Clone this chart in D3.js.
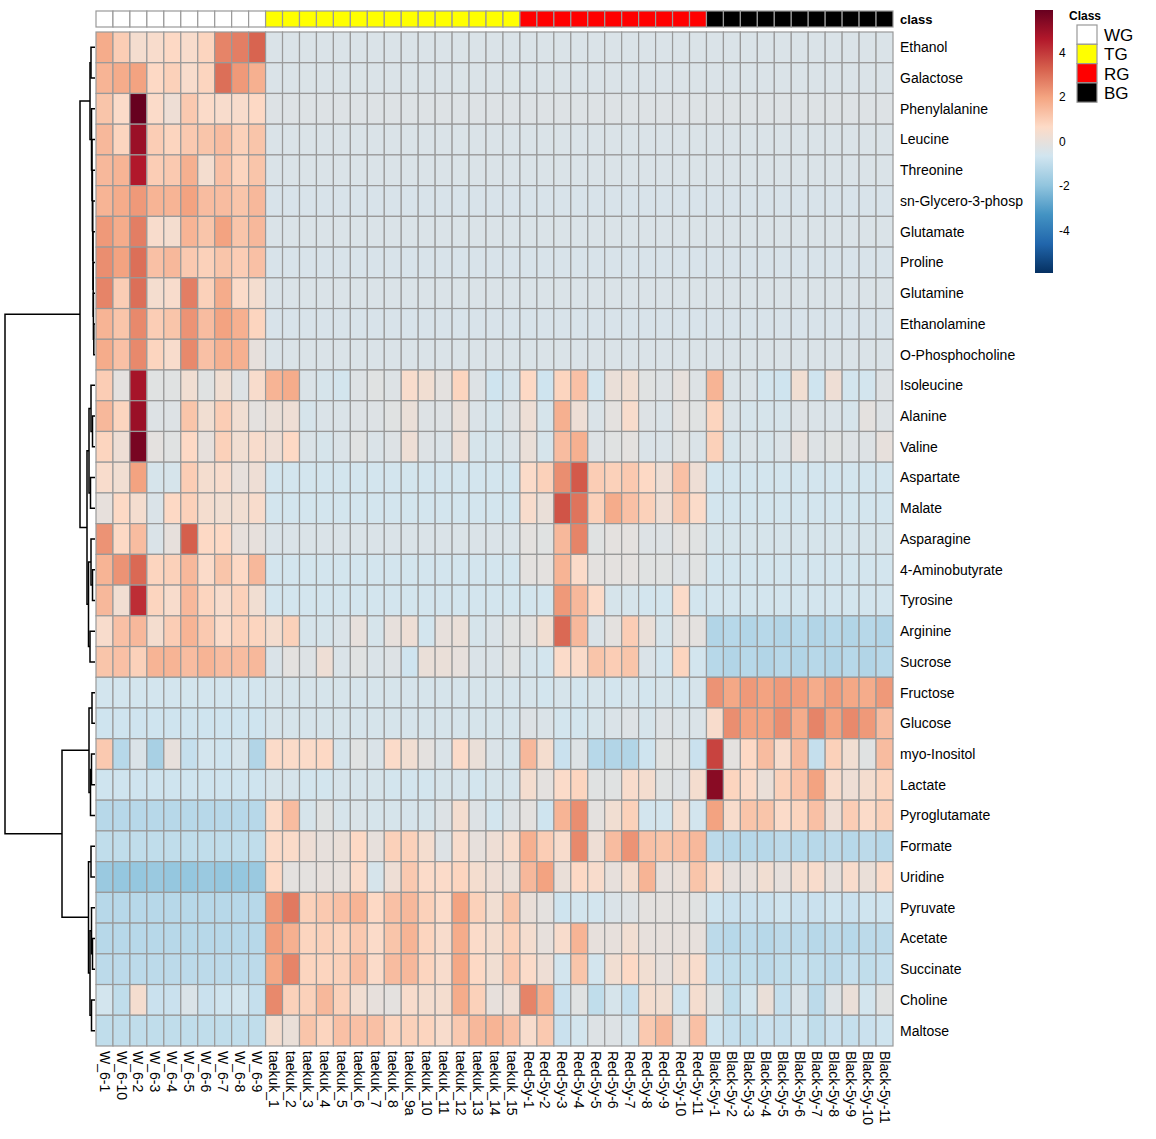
<!DOCTYPE html>
<html>
<head>
<meta charset="utf-8">
<script src="https://cdn.jsdelivr.net/npm/d3@7"></script>
<style>
  body { margin: 0; background: #fff; }
  text { font-family: "Liberation Sans", Arial, sans-serif; }
</style>
</head>
<body>
<div class="canvas"></div>
<script>
// metabolites (rows, top to bottom)
const rowNames = ['Ethanol', 'Galactose', 'Phenylalanine', 'Leucine', 'Threonine', 'sn-Glycero-3-phosp',
  'Glutamate', 'Proline', 'Glutamine', 'Ethanolamine', 'O-Phosphocholine', 'Isoleucine', 'Alanine',
  'Valine', 'Aspartate', 'Malate', 'Asparagine', '4-Aminobutyrate', 'Tyrosine', 'Arginine', 'Sucrose',
  'Fructose', 'Glucose', 'myo-Inositol', 'Lactate', 'Pyroglutamate', 'Formate', 'Uridine', 'Pyruvate',
  'Acetate', 'Succinate', 'Choline', 'Maltose'];

// samples (columns, left to right)
const colNames = ['W_6-1', 'W_6-10', 'W_6-2', 'W_6-3', 'W_6-4', 'W_6-5', 'W_6-6', 'W_6-7', 'W_6-8', 'W_6-9',
  'taekuk_1', 'taekuk_2', 'taekuk_3', 'taekuk_4', 'taekuk_5', 'taekuk_6', 'taekuk_7', 'taekuk_8', 'taekuk_9a',
  'taekuk_10', 'taekuk_11', 'taekuk_12', 'taekuk_13', 'taekuk_14', 'taekuk_15',
  'Red-5y-1', 'Red-5y-2', 'Red-5y-3', 'Red-5y-4', 'Red-5y-5', 'Red-5y-6', 'Red-5y-7', 'Red-5y-8', 'Red-5y-9',
  'Red-5y-10', 'Red-5y-11',
  'Black-5y-1', 'Black-5y-2', 'Black-5y-3', 'Black-5y-4', 'Black-5y-5', 'Black-5y-6', 'Black-5y-7',
  'Black-5y-8', 'Black-5y-9', 'Black-5y-10', 'Black-5y-11'];

const colGroups = ['WG','WG','WG','WG','WG','WG','WG','WG','WG','WG',
  'TG','TG','TG','TG','TG','TG','TG','TG','TG','TG','TG','TG','TG','TG','TG',
  'RG','RG','RG','RG','RG','RG','RG','RG','RG','RG','RG',
  'BG','BG','BG','BG','BG','BG','BG','BG','BG','BG','BG'];

const groupNames = ['WG', 'TG', 'RG', 'BG'];
const groupColors = ['#FFFFFF', '#FFFF00', '#FF0000', '#000000'];
const legendTicks = [4, 2, 0, -2, -4];

// scaled concentrations: W(10) | TG(15) | RG(11) | BG(11)
const values = [
  [1.8,1.0,0.4,0.5,0.7,0.5,0.8,2.6,2.7,3.2, -0.4,-0.4,-0.4,-0.4,-0.4,-0.4,-0.4,-0.4,-0.4,-0.4,-0.4,-0.4,-0.4,-0.4,-0.4, -0.4,-0.4,-0.4,-0.4,-0.4,-0.4,-0.4,-0.4,-0.4,-0.4,-0.4, -0.4,-0.4,-0.4,-0.4,-0.4,-0.4,-0.4,-0.4,-0.4,-0.4,-0.4],
  [1.6,1.8,2.0,0.7,0.9,0.5,0.8,3.0,2.2,1.7, -0.4,-0.4,-0.4,-0.4,-0.4,-0.4,-0.4,-0.4,-0.4,-0.4,-0.4,-0.4,-0.4,-0.4,-0.4, -0.4,-0.4,-0.4,-0.4,-0.4,-0.4,-0.4,-0.4,-0.4,-0.4,-0.4, -0.4,-0.4,-0.4,-0.4,-0.4,-0.4,-0.4,-0.4,-0.4,-0.4,-0.4],
  [1.2,0.6,5.9,0.6,0.2,1.1,0.6,0.5,0.5,0.7, -0.3,-0.3,-0.3,-0.3,-0.3,-0.3,-0.3,-0.3,-0.3,-0.3,-0.3,-0.3,-0.3,-0.3,-0.3, -0.3,-0.3,-0.3,-0.3,-0.3,-0.3,-0.3,-0.3,-0.3,-0.3,-0.3, -0.3,-0.3,-0.3,-0.3,-0.3,-0.3,-0.3,-0.3,-0.3,-0.3,-0.3],
  [1.5,0.8,5.0,1.0,0.8,1.1,1.2,1.4,0.9,1.2, -0.4,-0.4,-0.4,-0.4,-0.4,-0.4,-0.4,-0.4,-0.4,-0.4,-0.4,-0.4,-0.4,-0.4,-0.4, -0.4,-0.4,-0.4,-0.4,-0.4,-0.4,-0.4,-0.4,-0.4,-0.4,-0.4, -0.4,-0.4,-0.4,-0.4,-0.4,-0.4,-0.4,-0.4,-0.4,-0.4,-0.4],
  [1.5,1.6,4.6,1.0,1.1,1.7,0.4,1.3,0.8,1.2, -0.4,-0.4,-0.4,-0.4,-0.4,-0.4,-0.4,-0.4,-0.4,-0.4,-0.4,-0.4,-0.4,-0.4,-0.4, -0.4,-0.4,-0.4,-0.4,-0.4,-0.4,-0.4,-0.4,-0.4,-0.4,-0.4, -0.4,-0.4,-0.4,-0.4,-0.4,-0.4,-0.4,-0.4,-0.4,-0.4,-0.4],
  [1.6,1.8,2.2,1.6,1.6,2.0,1.4,1.4,1.2,1.5, -0.45,-0.45,-0.45,-0.45,-0.45,-0.45,-0.45,-0.45,-0.45,-0.45,-0.45,-0.45,-0.45,-0.45,-0.45, -0.45,-0.45,-0.45,-0.45,-0.45,-0.45,-0.45,-0.45,-0.45,-0.45,-0.45, -0.45,-0.45,-0.45,-0.45,-0.45,-0.45,-0.45,-0.45,-0.45,-0.45,-0.45],
  [2.2,1.8,2.7,0.5,0.4,1.6,1.2,2.0,1.2,1.5, -0.4,-0.4,-0.4,-0.4,-0.4,-0.4,-0.4,-0.4,-0.4,-0.4,-0.4,-0.4,-0.4,-0.4,-0.4, -0.4,-0.4,-0.4,-0.4,-0.4,-0.4,-0.4,-0.4,-0.4,-0.4,-0.4, -0.4,-0.4,-0.4,-0.4,-0.4,-0.4,-0.4,-0.4,-0.4,-0.4,-0.4],
  [2.4,2.0,3.0,1.3,1.5,1.1,0.9,1.2,1.0,1.3, -0.45,-0.45,-0.45,-0.45,-0.45,-0.45,-0.45,-0.45,-0.45,-0.45,-0.45,-0.45,-0.45,-0.45,-0.45, -0.45,-0.45,-0.45,-0.45,-0.45,-0.45,-0.45,-0.45,-0.45,-0.45,-0.45, -0.45,-0.45,-0.45,-0.45,-0.45,-0.45,-0.45,-0.45,-0.45,-0.45,-0.45],
  [2.6,1.0,3.0,0.4,0.5,2.7,0.9,1.8,0.6,0.4, -0.4,-0.4,-0.4,-0.4,-0.4,-0.4,-0.4,-0.4,-0.4,-0.4,-0.4,-0.4,-0.4,-0.4,-0.4, -0.4,-0.4,-0.4,-0.4,-0.4,-0.4,-0.4,-0.4,-0.4,-0.4,-0.4, -0.4,-0.4,-0.4,-0.4,-0.4,-0.4,-0.4,-0.4,-0.4,-0.4,-0.4],
  [1.6,1.2,2.5,1.0,1.2,2.3,1.4,2.0,1.7,0.8, -0.45,-0.45,-0.45,-0.45,-0.45,-0.45,-0.45,-0.45,-0.45,-0.45,-0.45,-0.45,-0.45,-0.45,-0.45, -0.45,-0.45,-0.45,-0.45,-0.45,-0.45,-0.45,-0.45,-0.45,-0.45,-0.45, -0.45,-0.45,-0.45,-0.45,-0.45,-0.45,-0.45,-0.45,-0.45,-0.45,-0.45],
  [1.8,1.3,2.5,0.8,0.5,2.5,1.3,1.7,1.7,0.0, -0.4,-0.4,-0.4,-0.4,-0.4,-0.4,-0.4,-0.4,-0.4,-0.4,-0.4,-0.4,-0.4,-0.4,-0.4, -0.4,-0.4,-0.4,-0.4,-0.4,-0.4,-0.4,-0.4,-0.4,-0.4,-0.4, -0.4,-0.4,-0.4,-0.4,-0.4,-0.4,-0.4,-0.4,-0.4,-0.4,-0.4],
  [1.0,-0.1,4.8,-0.2,-0.2,0.3,-0.2,0.3,-0.3,0.5, 1.6,1.8,-0.4,-0.5,-0.6,-0.3,-0.2,-0.3,0.5,0.3,-0.1,0.8,-0.3,-0.7,-0.5, 0.7,-0.7,0.8,1.3,-0.6,0.1,0.3,-0.2,-0.3,0.0,-0.3, 1.6,-0.4,-0.4,-0.6,-0.7,0.3,-0.7,0.2,-0.6,-0.6,-0.3],
  [1.5,0.8,5.0,-0.3,-0.3,1.2,0.3,1.0,0.3,-0.1, 0.1,0.2,-0.5,-0.4,-0.4,-0.3,-0.3,-0.2,0.1,-0.3,-0.3,0.1,-0.4,-0.5,-0.3, 0.2,-0.5,1.7,0.2,-0.4,-0.1,0.5,-0.3,-0.4,-0.1,-0.2, 0.8,-0.4,-0.5,-0.5,-0.5,-0.3,-0.4,-0.4,-0.5,-0.1,-0.3],
  [0.8,0.2,5.6,-0.1,-0.2,0.7,0.0,0.9,0.3,0.5, 0.2,0.7,-0.4,-0.5,-0.4,-0.2,-0.4,-0.3,0.2,-0.3,-0.4,0.2,-0.5,-0.5,-0.4, 0.1,-0.5,1.4,1.7,-0.3,-0.2,-0.1,-0.4,-0.4,-0.2,-0.4, 0.9,-0.5,-0.4,-0.5,-0.4,0.0,-0.3,-0.2,-0.3,-0.3,0.0],
  [0.5,0.3,2.0,-0.5,-0.5,1.0,0.4,0.5,0.0,0.2, -0.6,-0.6,-0.6,-0.6,-0.6,-0.6,-0.6,-0.6,-0.6,-0.6,-0.6,-0.6,-0.6,-0.6,-0.6, 0.6,0.9,2.4,3.4,1.0,0.9,1.1,0.7,0.2,1.3,0.2, -0.6,-0.6,-0.6,-0.6,-0.6,-0.6,-0.6,-0.6,-0.6,-0.6,-0.6],
  [0.0,0.7,0.4,-0.4,0.7,0.9,0.4,0.3,0.3,0.5, -0.6,-0.6,-0.6,-0.6,-0.6,-0.6,-0.6,-0.6,-0.6,-0.6,-0.6,-0.6,-0.6,-0.6,-0.6, 0.5,0.1,3.5,2.9,0.9,1.8,1.3,0.9,0.2,1.2,0.6, -0.6,-0.6,-0.6,-0.6,-0.6,-0.6,-0.6,-0.6,-0.6,-0.6,-0.6],
  [2.3,0.7,1.4,-0.4,0.0,3.3,0.7,0.7,0.0,0.0, -0.4,-0.4,-0.4,-0.4,-0.4,-0.4,-0.4,-0.4,-0.4,-0.4,-0.4,-0.4,-0.4,-0.4,-0.4, -0.1,-0.2,1.5,2.6,-0.2,-0.1,-0.1,-0.3,-0.3,-0.1,-0.2, -0.5,-0.5,-0.5,-0.5,-0.5,-0.5,-0.5,-0.5,-0.5,-0.5,-0.5],
  [1.6,2.3,3.1,0.8,0.9,1.5,0.6,1.2,0.7,1.5, -0.6,-0.6,-0.6,-0.6,-0.6,-0.6,-0.6,-0.6,-0.6,-0.6,-0.6,-0.6,-0.6,-0.6,-0.6, -0.1,-0.1,1.6,0.6,-0.1,-0.1,-0.1,-0.2,-0.2,-0.3,-0.2, -0.6,-0.6,-0.6,-0.6,-0.6,-0.6,-0.6,-0.6,-0.6,-0.6,-0.6],
  [1.5,0.3,4.2,0.8,0.5,1.5,0.8,0.5,0.9,0.3, -0.6,-0.6,-0.6,-0.6,-0.6,-0.6,-0.6,-0.6,-0.6,-0.6,-0.6,-0.6,-0.6,-0.6,-0.6, -0.6,-0.6,2.2,1.5,0.6,-0.5,-0.5,-0.6,-0.6,0.6,-0.6, -0.6,-0.6,-0.6,-0.6,-0.6,-0.6,-0.6,-0.6,-0.6,-0.6,-0.6],
  [0.5,1.3,1.5,0.4,1.0,1.6,1.1,0.6,0.9,0.8, 0.4,0.9,-0.5,-0.5,-0.4,0.0,-0.5,0.0,0.2,-0.6,0.0,0.1,-0.5,-0.4,-0.2, -0.1,0.3,3.1,1.5,-0.4,-0.1,1.0,0.1,-0.5,0.0,-0.1, -1.3,-1.2,-1.3,-1.2,-1.3,-1.2,-1.3,-1.2,-1.3,-1.2,-1.3],
  [1.2,1.3,0.9,1.6,1.6,1.4,1.6,1.4,1.4,1.5, -0.4,-0.1,-0.3,0.2,-0.4,-0.2,-0.4,-0.3,-0.7,0.1,0.1,0.0,-0.4,-0.4,-0.2, -0.5,-0.6,0.6,0.6,1.2,1.0,1.2,-0.4,-0.6,0.8,-0.6, -1.2,-1.3,-1.2,-1.3,-1.2,-1.3,-1.2,-1.3,-1.2,-1.3,-1.2],
  [-0.6,-0.6,-0.6,-0.6,-0.6,-0.6,-0.6,-0.6,-0.6,-0.6, -0.5,-0.5,-0.5,-0.5,-0.5,-0.5,-0.5,-0.5,-0.5,-0.5,-0.5,-0.5,-0.5,-0.5,-0.5, -0.5,-0.6,-0.5,-0.6,-0.5,-0.6,-0.5,-0.6,-0.5,-0.6,-0.5, 2.3,1.9,2.2,2.0,2.2,2.1,1.8,2.1,1.9,1.8,2.2],
  [-0.7,-0.7,-0.7,-0.7,-0.7,-0.7,-0.7,-0.7,-0.7,-0.7, -0.5,-0.5,-0.5,-0.5,-0.5,-0.5,-0.5,-0.5,-0.5,-0.5,-0.5,-0.5,-0.5,-0.5,-0.5, -0.3,-0.4,-0.6,-0.6,-0.5,-0.4,-0.3,-0.5,-0.3,-0.4,-0.4, 0.5,2.4,2.0,2.0,2.4,1.8,2.6,2.0,2.5,2.2,1.4],
  [1.1,-1.2,-0.4,-1.5,0.0,-0.9,-0.6,-0.7,-0.5,-1.3, 0.6,0.6,0.6,0.7,-0.5,-0.2,-0.4,0.6,0.3,-0.1,-0.4,0.6,0.1,-0.4,-0.5, 1.5,0.4,-0.8,-0.3,-1.2,-1.3,-1.3,-0.7,-0.2,-0.2,-0.8, 3.8,-0.1,0.7,1.4,0.5,1.5,-0.9,0.9,0.3,-0.2,1.4],
  [-0.7,-0.7,-0.7,-0.7,-0.7,-0.7,-0.7,-0.7,-0.7,-0.7, -0.5,-0.5,-0.6,-0.6,-0.5,-0.5,-0.5,-0.6,-0.6,-0.6,-0.5,-0.5,-0.6,-0.5,-0.5, 0.4,-0.1,0.6,0.8,-0.2,-0.2,0.5,0.4,-0.2,-0.3,0.4, 5.3,0.8,0.6,0.1,0.9,1.3,2.0,0.5,0.2,0.4,0.8],
  [-1.2,-1.2,-1.2,-1.2,-1.2,-1.2,-1.2,-1.2,-1.2,-1.2, 0.6,1.4,-0.5,-0.2,-0.5,-0.4,-0.5,-0.5,-0.5,-0.5,-0.3,0.4,-0.3,-0.6,-0.3, -0.1,-0.7,1.6,2.4,-0.1,0.3,0.9,-0.6,-0.6,0.4,-0.6, 2.0,0.5,1.2,1.2,0.6,0.8,1.3,0.2,1.0,0.6,0.9],
  [-1.0,-1.0,-1.0,-1.0,-1.0,-1.0,-1.0,-1.0,-1.0,-1.0, 0.6,0.6,0.2,0.0,0.1,0.7,0.0,0.9,0.9,0.4,-0.3,0.5,0.0,0.2,0.5, 1.7,1.0,0.5,2.5,0.2,1.4,2.3,1.3,1.2,1.3,1.5, -1.1,-1.2,-1.2,-1.2,-1.1,-1.2,-1.2,-1.1,-1.2,-1.1,-1.2],
  [-1.8,-1.9,-1.9,-1.8,-1.9,-1.9,-1.8,-1.9,-1.9,-1.8, 0.7,-0.1,-0.1,0.0,0.0,0.6,-0.5,0.2,1.1,0.6,0.6,0.8,0.4,0.2,0.1, 1.5,2.0,0.1,0.7,0.5,0.0,0.4,1.6,0.0,0.1,1.2, 0.5,0.0,0.0,0.3,0.0,0.4,0.5,0.0,0.5,0.1,0.6],
  [-1.2,-1.2,-1.2,-1.2,-1.2,-1.2,-1.2,-1.2,-1.2,-1.2, 2.2,2.8,0.9,1.1,1.3,1.6,0.7,1.3,1.5,0.9,0.6,2.0,0.9,0.3,1.2, 0.1,-0.1,-0.7,-0.6,-0.6,-0.4,-0.3,-0.1,-0.1,-0.1,-0.2, -0.7,-0.8,-0.8,-0.8,-0.7,-0.8,-0.8,-0.7,-0.8,-0.7,-0.7],
  [-1.2,-1.2,-1.2,-1.2,-1.2,-1.2,-1.2,-1.2,-1.2,-1.2, 2.1,1.7,0.8,0.9,0.8,1.1,0.6,1.2,1.6,0.8,0.5,1.8,0.6,0.4,0.9, 0.4,0.0,0.5,1.6,0.0,0.0,0.3,0.0,0.0,0.0,0.0, -1.1,-1.2,-1.1,-1.2,-1.1,-1.1,-1.2,-1.1,-1.2,-1.1,-1.1],
  [-1.1,-1.1,-1.1,-1.1,-1.1,-1.1,-1.1,-1.1,-1.1,-1.1, 1.9,2.6,0.8,0.8,0.9,1.4,0.6,1.4,1.5,0.8,0.5,1.9,0.7,0.3,1.1, 0.6,0.2,-0.6,1.2,-0.6,0.3,0.7,0.3,0.0,0.3,0.5, -0.9,-1.0,-1.0,-1.1,-1.0,-0.9,-1.0,-1.1,-0.9,-1.0,-0.9],
  [-0.6,-1.0,0.4,-0.8,-0.8,-0.4,-0.8,-0.7,-0.6,-0.9, 2.5,0.9,0.9,1.5,0.9,0.3,0.0,-0.1,0.5,0.4,0.4,1.8,0.9,0.0,0.2, 2.6,1.7,-0.8,-0.2,-1.0,-0.5,-0.9,0.4,0.3,-0.7,0.4, -0.2,-1.0,-0.6,0.1,-0.9,-0.4,-1.1,-0.3,0.1,-0.6,-0.2],
  [-1.0,-1.0,-1.0,-1.0,-1.0,-1.0,-1.0,-1.0,-1.0,-1.0, 0.4,0.1,1.2,0.8,1.3,1.3,1.3,0.8,0.9,0.8,0.5,1.1,1.5,1.6,1.3, 0.5,1.1,-0.8,-0.6,-0.3,-0.3,-0.5,1.1,1.5,-0.1,1.3, -0.7,-0.9,-1.0,-0.8,-0.9,-0.7,-1.0,-0.8,-0.9,-0.8,-0.7]
];

// row dendrogram: [height, left, right], leaves are row names
const rowTree = [90,
  [15,
    [5, [4, 'Ethanol', 'Galactose'],
      [3.5, 'Phenylalanine', [3, 'Leucine', [2.6, 'Threonine', [2.3, 'sn-Glycero-3-phosp',
        [2, 'Glutamate', [1.8, 'Proline', [1.6, 'Glutamine', [1.2, 'Ethanolamine', 'O-Phosphocholine']]]]]]]]],
    [8,
      [6, [4, 'Isoleucine', [2.5, 'Alanine', 'Valine']], [4.5, 'Aspartate', 'Malate']],
      [6.5, [4, 'Asparagine', [2.5, '4-Aminobutyrate', 'Tyrosine']], [5, 'Arginine', 'Sucrose']]]],
  [33,
    [6, [3, 'Fructose', 'Glucose'], [4.5, [3.5, 'myo-Inositol', 'Lactate'], 'Pyroglutamate']],
    [6.5, [4, 'Formate', 'Uridine'],
      [5, [3.5, 'Pyruvate', [2.5, 'Acetate', 'Succinate']], [3.5, 'Choline', 'Maltose']]]]
];

const dims = { width: 1156, height: 1139 };
const heat = { left: 96, right: 893, top: 32, bottom: 1046 };

const svg = d3.select('.canvas').append('svg')
  .attr('width', dims.width)
  .attr('height', dims.height)
  .style('background', '#fff');

const x = d3.scaleBand().domain(colNames).range([heat.left, heat.right]);
const y = d3.scaleBand().domain(rowNames).range([heat.top, heat.bottom]);

// rev(RdBu) ramp, symmetric around 0
const palette = ['#053061', '#2166AC', '#4393C3', '#92C5DE', '#D1E5F0',
  '#FDDBC7', '#F4A582', '#D6604D', '#B2182B', '#67001F'];
const vmax = 5.9;
const color = d3.scaleLinear()
  .domain(palette.map((c, i) => -vmax + i * 2 * vmax / (palette.length - 1)))
  .range(palette)
  .interpolate(d3.interpolateRgb)
  .clamp(true);

const groupColor = d3.scaleOrdinal().domain(groupNames).range(groupColors);

// cells
const cells = [];
values.forEach((row, i) => row.forEach((v, j) => cells.push({ r: rowNames[i], c: colNames[j], v })));

svg.append('g').selectAll('rect')
  .data(cells)
  .enter().append('rect')
    .attr('x', d => x(d.c))
    .attr('y', d => y(d.r))
    .attr('width', x.bandwidth())
    .attr('height', y.bandwidth())
    .attr('fill', d => color(d.v))
    .attr('stroke', '#999999')
    .attr('stroke-width', 1.2);

// class annotation bar
svg.append('g').selectAll('rect')
  .data(colNames)
  .enter().append('rect')
    .attr('x', d => x(d))
    .attr('y', 11)
    .attr('width', x.bandwidth())
    .attr('height', 16)
    .attr('fill', (d, i) => groupColor(colGroups[i]))
    .attr('stroke', '#999999')
    .attr('stroke-width', 1.2);

svg.append('text')
  .attr('x', heat.right + 7)
  .attr('y', 24)
  .attr('font-size', 13)
  .attr('font-weight', 'bold')
  .text('class');

// row labels
svg.append('g').selectAll('text')
  .data(rowNames)
  .enter().append('text')
    .attr('x', heat.right + 7)
    .attr('y', d => y(d) + y.bandwidth() / 2)
    .attr('dy', '0.35em')
    .attr('font-size', 14)
    .text(d => d);

// column labels (rotated)
svg.append('g').selectAll('text')
  .data(colNames)
  .enter().append('text')
    .attr('transform', d => `translate(${x(d) + x.bandwidth() / 2}, ${heat.bottom + 5}) rotate(90)`)
    .attr('dy', '0.35em')
    .attr('font-size', 14)
    .text(d => d);

// row dendrogram
const root = d3.hierarchy(rowTree, d => Array.isArray(d) ? d.slice(1) : null);
const hx = d3.scaleLinear().domain([0, rowTree[0]]).range([heat.left - 1, 5]);

root.eachAfter(n => {
  if (n.children) {
    n.px = hx(n.data[0]);
    n.py = d3.mean(n.children, c => c.py);
  } else {
    n.px = hx(0);
    n.py = y(n.data) + y.bandwidth() / 2;
  }
});

svg.append('g').selectAll('path')
  .data(root.descendants().filter(n => n.children))
  .enter().append('path')
    .attr('fill', 'none')
    .attr('stroke', '#000')
    .attr('stroke-width', 1.5)
    .attr('d', n => {
      const [a, b] = n.children;
      return `M${a.px},${a.py}H${n.px}V${b.py}H${b.px}`;
    });

// colour key
const defs = svg.append('defs');
const grad = defs.append('linearGradient')
  .attr('id', 'key')
  .attr('x1', 0).attr('y1', 1).attr('x2', 0).attr('y2', 0);
color.domain().forEach((v, i) => {
  grad.append('stop')
    .attr('offset', i / (palette.length - 1))
    .attr('stop-color', palette[i]);
});

const keyY = d3.scaleLinear().domain([vmax, -vmax]).range([10, 273]);
svg.append('rect')
  .attr('x', 1035)
  .attr('y', keyY(vmax))
  .attr('width', 18)
  .attr('height', keyY(-vmax) - keyY(vmax))
  .attr('fill', 'url(#key)');

svg.append('g').selectAll('text')
  .data(legendTicks)
  .enter().append('text')
    .attr('x', 1059)
    .attr('y', d => keyY(d))
    .attr('dy', '0.35em')
    .attr('font-size', 12)
    .text(d => d);

// class legend
svg.append('text')
  .attr('x', 1069)
  .attr('y', 20)
  .attr('font-size', 12)
  .attr('font-weight', 'bold')
  .text('Class');

const lg = svg.append('g').selectAll('g')
  .data(groupNames)
  .enter().append('g')
    .attr('transform', (d, i) => `translate(1077, ${25 + i * 19.3})`);

lg.append('rect')
  .attr('width', 20)
  .attr('height', 19.3)
  .attr('fill', d => groupColor(d))
  .attr('stroke', '#999999')
  .attr('stroke-width', 1.2);

lg.append('text')
  .attr('x', 27)
  .attr('y', 10)
  .attr('dy', '0.36em')
  .attr('font-size', 17)
  .text(d => d);
</script>
</body>
</html>
